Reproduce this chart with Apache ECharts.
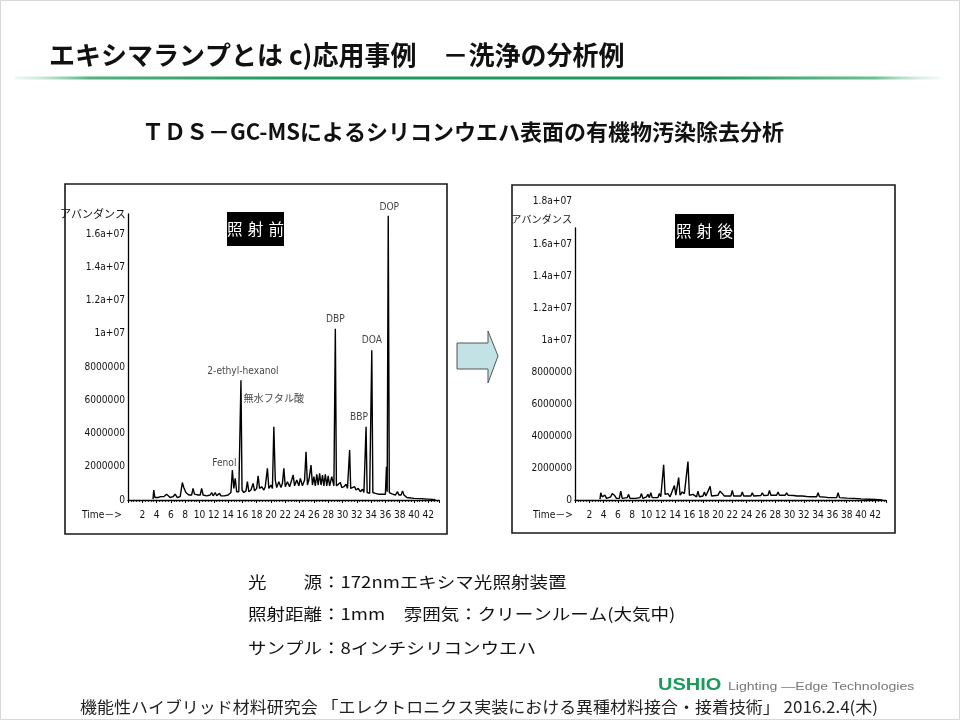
<!DOCTYPE html>
<html>
<head>
<meta charset="utf-8">
<script src="https://cdn.jsdelivr.net/npm/echarts@6/dist/echarts.min.js"></script>
<style>
html,body{margin:0;padding:0;background:#fff;}
#c{width:960px;height:720px;}
</style>
</head>
<body>
<div id="c"></div>
<script>
// ---------- data ----------
const beforeTime = [3.5,3.6,3.75,4.2,4.6,5.0,5.4,5.6,5.9,6.3,6.6,6.9,7.3,7.6,7.8,8.1,8.5,8.9,9.1,9.3,9.8,10.1,10.3,10.5,11.0,11.5,11.7,11.9,12.2,12.4,12.8,13.0,13.5,14.0,14.4,14.6,14.8,15.0,15.2,15.5,15.8,15.95,16.2,16.5,16.7,16.9,17.2,17.5,17.7,18.0,18.2,18.4,18.7,19.0,19.2,19.5,19.7,20.0,20.2,20.4,20.6,20.8,21.1,21.4,21.6,21.8,22.0,22.3,22.6,22.9,23.1,23.3,23.6,23.9,24.1,24.4,24.7,24.9,25.1,25.3,25.6,25.8,26.0,26.2,26.4,26.6,26.8,27.0,27.2,27.4,27.6,27.8,28.0,28.2,28.5,28.8,29.0,29.15,29.4,29.7,29.9,30.2,30.5,30.7,31.0,31.15,31.4,31.7,31.9,32.2,32.5,32.8,33.0,33.3,33.45,33.8,34.1,34.25,34.6,35.0,35.5,36.0,36.15,36.25,36.4,36.55,37.0,37.4,37.7,37.9,38.2,38.4,38.6,39.0,40.0,41.0,42.0,43.0];
const beforeAbund = [0.05e6,0.6e6,0.15e6,0.15e6,0.2e6,0.2e6,0.35e6,0.45e6,0.15e6,0.2e6,0.35e6,0.15e6,0.2e6,1.05e6,0.75e6,0.45e6,0.3e6,0.3e6,0.7e6,0.35e6,0.3e6,0.3e6,0.7e6,0.3e6,0.25e6,0.3e6,0.45e6,0.25e6,0.45e6,0.25e6,0.4e6,0.25e6,0.25e6,0.3e6,0.45e6,1.8e6,0.7e6,1.3e6,0.5e6,0.5e6,7.2e6,0.6e6,0.45e6,0.55e6,1.1e6,0.5e6,0.6e6,1.0e6,0.55e6,0.7e6,1.45e6,0.7e6,0.8e6,0.6e6,0.8e6,1.9e6,0.7e6,0.9e6,0.7e6,4.4e6,1.2e6,0.75e6,1.1e6,0.75e6,1.0e6,1.9e6,0.8e6,1.1e6,0.8e6,1.2e6,1.5e6,0.85e6,1.2e6,0.85e6,1.3e6,0.85e6,1.2e6,2.9e6,0.9e6,1.2e6,2.1e6,0.9e6,1.4e6,0.85e6,1.55e6,0.9e6,1.6e6,0.9e6,1.5e6,0.85e6,1.55e6,0.85e6,1.45e6,0.85e6,1.4e6,0.85e6,10.3e6,0.85e6,0.8e6,1.05e6,0.75e6,0.8e6,0.95e6,0.7e6,3.0e6,0.7e6,0.65e6,0.8e6,0.6e6,0.7e6,0.5e6,0.65e6,0.45e6,4.4e6,0.45e6,0.4e6,9.0e6,0.45e6,0.4e6,0.35e6,0.35e6,0.35e6,2.0e6,0.5e6,17.1e6,0.45e6,0.35e6,0.3e6,0.5e6,0.3e6,0.3e6,0.55e6,0.3e6,0.15e6,0.1e6,0.08e6,0.05e6,0.02e6];

const afterTime = [3.5,3.6,3.8,4.2,4.4,5.0,5.2,5.5,5.8,6.2,6.4,6.6,7.3,7.5,7.7,8.5,9.1,9.3,9.5,10.0,10.2,10.4,10.6,10.8,11.6,11.8,12.0,12.4,12.6,13.0,13.3,13.9,14.1,14.5,14.7,15.0,15.3,15.8,16.0,16.5,17.0,17.2,17.4,17.9,18.1,18.3,18.9,19.1,20.0,20.3,20.6,20.9,21.8,22.0,22.2,23.2,23.4,23.6,24.6,24.8,25.0,26.0,26.2,26.4,27.0,27.2,27.4,28.2,28.4,28.6,29.4,29.6,29.8,30.6,30.8,31.0,31.8,32.0,32.4,32.6,33.0,33.8,34.0,34.2,35.0,35.2,35.4,36.6,36.8,37.0,38.0,39.0,40.0,41.0,42.0,43.0];
const afterAbund = [0.05e6,0.45e6,0.2e6,0.3e6,0.1e6,0.2e6,0.4e6,0.3e6,0.1e6,0.1e6,0.55e6,0.1e6,0.15e6,0.35e6,0.1e6,0.1e6,0.15e6,0.4e6,0.1e6,0.2e6,0.35e6,0.15e6,0.45e6,0.15e6,0.15e6,0.4e6,0.2e6,2.2e6,0.35e6,0.4e6,0.2e6,0.9e6,0.3e6,1.4e6,0.3e6,0.5e6,0.4e6,2.4e6,0.3e6,0.35e6,0.2e6,0.55e6,0.2e6,0.25e6,0.5e6,0.25e6,0.85e6,0.25e6,0.3e6,0.55e6,0.4e6,0.25e6,0.25e6,0.6e6,0.25e6,0.25e6,0.5e6,0.25e6,0.25e6,0.45e6,0.25e6,0.28e6,0.45e6,0.28e6,0.3e6,0.6e6,0.3e6,0.3e6,0.5e6,0.3e6,0.3e6,0.45e6,0.3e6,0.28e6,0.35e6,0.25e6,0.25e6,0.3e6,0.22e6,0.3e6,0.2e6,0.2e6,0.45e6,0.2e6,0.18e6,0.3e6,0.15e6,0.15e6,0.45e6,0.15e6,0.12e6,0.1e6,0.07e6,0.05e6,0.03e6,0.0];

const peakNames  = ['Fenol','2-ethyl-hexanol','無水フタル酸','DBP','BBP','DOA','DOP'];
const peakTimes  = [14.6, 15.8, 20.4, 29.0, 33.3, 34.1, 36.4];
const peakValues = [1.8e6, 7.2e6, 4.4e6, 10.3e6, 4.4e6, 9.0e6, 17.1e6];

const yTickLabels = ['0','2000000','4000000','6000000','8000000','1a+07','1.2a+07','1.4a+07','1.6a+07'];
const yTickStep = 2000000;
const xTickStep = 2;
const xTickMax = 42;

const titleText = 'エキシマランプとは c)応用事例　－洗浄の分析例';
const subTitleText = 'ＴＤＳ－GC-MSによるシリコンウエハ表面の有機物汚染除去分析';
const beforeTag = '照\u2004射\u2004前';
const afterTag = '照\u2004射\u2004後';
const noteLines = ['光　　源：172nmエキシマ光照射装置','照射距離：1mm　雰囲気：クリーンルーム(大気中)','サンプル：8インチシリコンウエハ'];
const footerText = '機能性ハイブリッド材料研究会 「エレクトロニクス実装における異種材料接合・接着技術」 2016.2.4(木)';

// ---------- pick a narrow font for the chart labels ----------
const JP = "'Noto Sans CJK JP','Noto Sans',sans-serif";
const cv = document.createElement('canvas').getContext('2d');
function w(font){ cv.font = font; return cv.measureText('0123456789').width; }
const candidates = [
  {test:"14px 'Liberation Sans Narrow', monospace", ref:"14px monospace", family:"'Liberation Sans Narrow'", weight:'normal'},
  {test:"14px 'Arial Narrow', monospace", ref:"14px monospace", family:"'Arial Narrow'", weight:'normal'},
  {test:"14px 'DejaVu Sans Condensed', monospace", ref:"14px monospace", family:"'DejaVu Sans Condensed'", weight:'normal'},
  {test:"14px 'Noto Sans Condensed', monospace", ref:"14px monospace", family:"'Noto Sans Condensed'", weight:'normal'},
  {test:"condensed 14px 'Noto Sans'", ref:"14px 'Noto Sans'", family:"'Noto Sans'", weight:'condensed'},
  {test:"condensed 14px 'DejaVu Sans'", ref:"14px 'DejaVu Sans'", family:"'DejaVu Sans'", weight:'condensed'},
  {test:"condensed 14px 'Liberation Sans'", ref:"14px 'Liberation Sans'", family:"'Liberation Sans'", weight:'condensed'}
];
let pick = {family:"'Liberation Sans'", weight:'normal', test:"14px 'Liberation Sans'"};
for (const c of candidates){ if (Math.abs(w(c.test) - w(c.ref)) > 0.5){ pick = c; break; } }
const digitPerPx = w(pick.test) / 10 / 14;
const LBL_SIZE = Math.min(14.5, Math.max(10, 5.8 / digitPerPx));
const NARROW = pick.family + ",'Noto Sans CJK JP',sans-serif";
const NW = pick.weight;

const labelTweaks = {
  'Fenol': {offset:[-8,0], distance:2},
  '2-ethyl-hexanol': {offset:[2,0], distance:4},
  '無水フタル酸': {offset:[0,-18], distance:4},
  'DBP': {offset:[0,0], distance:4},
  'BBP': {offset:[-7,0], distance:4},
  'DOA': {offset:[0,0], distance:5},
  'DOP': {offset:[1,0], distance:3}
};

function yFmt(v){
  const i = Math.round(v / yTickStep);
  if (Math.abs(v - i*yTickStep) > 1) return '';
  return yTickLabels[i] !== undefined ? yTickLabels[i] : '';
}
function xFmt(v){
  if (v <= 0 || v > xTickMax) return '';
  if (Math.abs(v/xTickStep - Math.round(v/xTickStep)) > 1e-6) return '';
  return String(v);
}

function makeX(gridIndex, gap){
  return {
    type:'value', gridIndex, min:0, max:43.5, interval:xTickStep,
    name:'Time－>', nameLocation:'start', nameGap:gap,
    nameTextStyle:{fontFamily:NARROW, fontWeight:NW, fontSize:LBL_SIZE, color:'#111', verticalAlign:'top', padding:[10,0,0,0]},
    axisLine:{show:true, onZero:false, lineStyle:{color:'#000', width:1.3}},
    axisTick:{show:true, length:3, lineStyle:{color:'#000', width:1}},
    minorTick:{show:true, splitNumber:5, length:2, lineStyle:{color:'#000', width:0.8}},
    axisLabel:{formatter:xFmt, fontFamily:NARROW, fontWeight:NW, fontSize:LBL_SIZE, color:'#111', margin:10, showMinLabel:true, showMaxLabel:true},
    splitLine:{show:false}
  };
}
function makeY(gridIndex, max, name, nameStyle){
  return {
    type:'value', gridIndex, min:0, max:max, interval:yTickStep,
    name:name, nameLocation:'end', nameGap:0,
    nameTextStyle:nameStyle,
    axisLine:{show:true, lineStyle:{color:'#000', width:1.3}},
    axisTick:{show:false},
    axisLabel:{formatter:yFmt, fontFamily:NARROW, fontWeight:NW, fontSize:LBL_SIZE, color:'#111', margin:3},
    splitLine:{show:false}
  };
}

const chart = echarts.init(document.getElementById('c'), null, {renderer:'canvas', width:960, height:720});

const labelData = peakNames.map((n,i)=>({
  value:[peakTimes[i], peakValues[i]],
  name:n,
  label:{show:true, position:'top', formatter:n, offset:labelTweaks[n].offset, distance:labelTweaks[n].distance,
         fontFamily:NARROW, fontWeight:NW, fontSize:LBL_SIZE, color:'#111'}
}));

const option = {
  backgroundColor:'#fff',
  animation:false,
  grid:[
    {left:128, top:214, width:311, height:286},
    {left:575, top:228, width:311, height:272}
  ],
  xAxis:[makeX(0,6), makeX(1,2)],
  yAxis:[
    makeY(0, 1.72e7, 'アバンダンス', {fontFamily:JP, fontSize:11, color:'#111', align:'right', verticalAlign:'middle', padding:[0,2,0,0]}),
    makeY(1, 1.7e7, '1.8a+07\nアバンダンス', {fontFamily:NARROW, fontWeight:NW, fontSize:Math.min(LBL_SIZE,12.5), color:'#111', align:'right', verticalAlign:'bottom', lineHeight:19, padding:[0,3,-2,0]})
  ],
  series:[
    {type:'line', xAxisIndex:0, yAxisIndex:0, showSymbol:false, symbol:'none',
     lineStyle:{color:'#000', width:1.4}, data:beforeTime.map((t,i)=>[t, beforeAbund[i]]), z:3},
    {type:'scatter', xAxisIndex:0, yAxisIndex:0, symbolSize:0, data:labelData, z:4, silent:true},
    {type:'line', xAxisIndex:1, yAxisIndex:1, showSymbol:false, symbol:'none',
     lineStyle:{color:'#000', width:1.4}, data:afterTime.map((t,i)=>[t, afterAbund[i]]), z:3}
  ],
  graphic:[
    {type:'rect', shape:{x:0.5,y:0.5,width:959,height:719}, style:{fill:'none', stroke:'#d8d8d8', lineWidth:1}},
    {type:'text', x:49, y:55, style:{text:titleText, fontFamily:JP, fontSize:26, fontWeight:'bold', fill:'#111', verticalAlign:'middle', align:'left'}},
    {type:'rect', shape:{x:15, y:76.5, width:925, height:3},
     style:{fill:new echarts.graphic.LinearGradient(0,0,1,0,[
       {offset:0,color:'rgba(215,235,225,0.4)'},
       {offset:0.08,color:'#52b27f'},
       {offset:0.3,color:'#1f9a5d'},
       {offset:0.75,color:'#1f9a5d'},
       {offset:0.93,color:'#6cc093'},
       {offset:1,color:'rgba(215,235,225,0.3)'}])}},
    {type:'text', x:463, y:132, style:{text:subTitleText, fontFamily:JP, fontSize:22, fontWeight:'bold', fill:'#111', verticalAlign:'middle', align:'center'}},
    {type:'rect', shape:{x:65, y:184, width:382, height:350}, style:{fill:'none', stroke:'#1a1a1a', lineWidth:1.6}},
    {type:'rect', shape:{x:512, y:185, width:383, height:348}, style:{fill:'none', stroke:'#1a1a1a', lineWidth:1.6}},
    {type:'rect', shape:{x:227, y:212, width:57, height:34}, style:{fill:'#000'}},
    {type:'text', x:255.5, y:229.5, style:{text:beforeTag, fontFamily:JP, fontSize:15.5, fill:'#fff', align:'center', verticalAlign:'middle'}},
    {type:'rect', shape:{x:675, y:214, width:59, height:34}, style:{fill:'#000'}},
    {type:'text', x:704.5, y:231.5, style:{text:afterTag, fontFamily:JP, fontSize:15.5, fill:'#fff', align:'center', verticalAlign:'middle'}},
    {type:'polygon', shape:{points:[[457,343],[488,343],[488,331],[498,356],[488,383],[488,369],[457,369]]},
     style:{fill:'#c3e2e6', stroke:'#555', lineWidth:1}},
    {type:'text', x:248, y:582, scaleX:1.157, style:{text:noteLines[0], fontFamily:JP, fontSize:16, fill:'#111', verticalAlign:'middle'}},
    {type:'text', x:248, y:614, scaleX:1.157, style:{text:noteLines[1], fontFamily:JP, fontSize:16, fill:'#111', verticalAlign:'middle'}},
    {type:'text', x:248, y:648, scaleX:1.157, style:{text:noteLines[2], fontFamily:JP, fontSize:16, fill:'#111', verticalAlign:'middle'}},
    {type:'text', x:658, y:686, scaleX:1.25, style:{text:'USHIO', fontFamily:"'Liberation Sans',sans-serif", fontSize:16, fontWeight:'bold', fill:'#1a9b5b', verticalAlign:'middle'}},
    {type:'text', x:728, y:687, scaleX:1.28, style:{text:'Lighting —Edge Technologies', fontFamily:"'Liberation Sans',sans-serif", fontSize:11, fill:'#777', verticalAlign:'middle'}},
    {type:'text', x:80, y:707, scaleX:1.061, style:{text:footerText, fontFamily:JP, fontSize:16, fill:'#222', verticalAlign:'middle'}}
  ]
};
chart.setOption(option);
</script>
</body>
</html>
